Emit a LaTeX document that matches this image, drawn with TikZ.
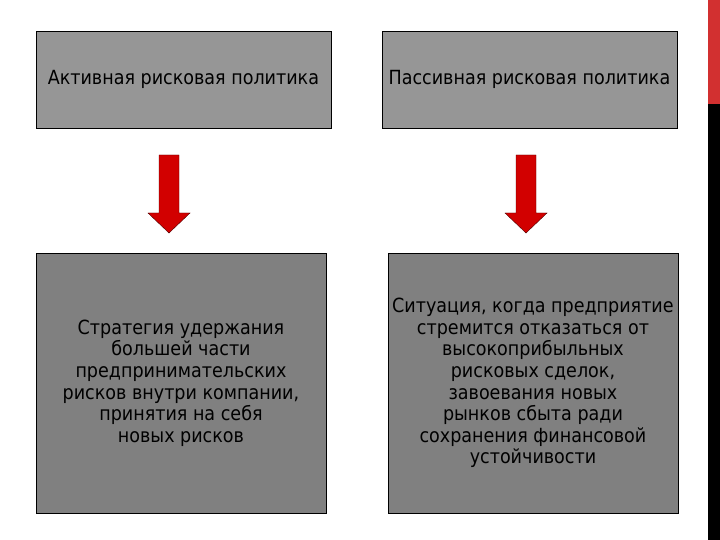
\documentclass[tikz,border=0pt]{standalone}
\usepackage{fontspec}
\setmainfont{DejaVu Sans Condensed}
\usepackage{xcolor}
\usetikzlibrary{positioning, calc}
\definecolor{boxlight}{RGB}{150,150,150}
\definecolor{boxdark}{RGB}{128,128,128}
\definecolor{arrowred}{RGB}{210,0,0}
\definecolor{barred}{RGB}{210,48,48}
\tikzset{
    head/.style={
        rectangle,
        draw=black,
        fill=boxlight,
        minimum width=295pt,
        minimum height=97pt,
        inner sep=0pt,
        font=\fontsize{19.5}{22}\selectfont,
    },
    body/.style={
        rectangle,
        draw=black,
        fill=boxdark,
        align=center,
        minimum width=290pt,
        minimum height=260pt,
        inner sep=0pt,
        font=\fontsize{19.5}{21.6}\selectfont,
    },
    downarrow/.style={
        draw=black!70!red,
        fill=arrowred,
        line join=miter,
    },
}

\begin{document}
\begin{tikzpicture}[x=1pt, y=-1pt]
      \useasboundingbox (0,0) rectangle (720,540);

      % side bar
      \fill[barred] (708,0) rectangle (720,104);
      \fill[black] (708,104) rectangle (720,540);

      \node[head] (act) at (183.5,79.5) {Активная рисковая политика};

      \node[head] (pas) at (529.5,79.5) {Пассивная рисковая политика};

      \node[body] (actd) at (181,383) {Стратегия удержания\\ большей части\\ предпринимательских\\ рисков внутри компании,\\ принятия на себя\\ новых рисков};

      \node[body] (pasd) at (533,383) {Ситуация, когда предприятие\\ стремится отказаться от\\ высокоприбыльных\\ рисковых сделок,\\ завоевания новых\\ рынков сбыта ради\\ сохранения финансовой\\ устойчивости};

      % arrows
      \draw[downarrow] (159,155) -- (179,155) -- (179,213) -- (190,213) -- (169,233) -- (148,213) -- (159,213) -- cycle;
      \draw[downarrow] (516,155) -- (536,155) -- (536,213) -- (547,213) -- (526,233) -- (505,213) -- (516,213) -- cycle;

    \end{tikzpicture}
\end{document}
